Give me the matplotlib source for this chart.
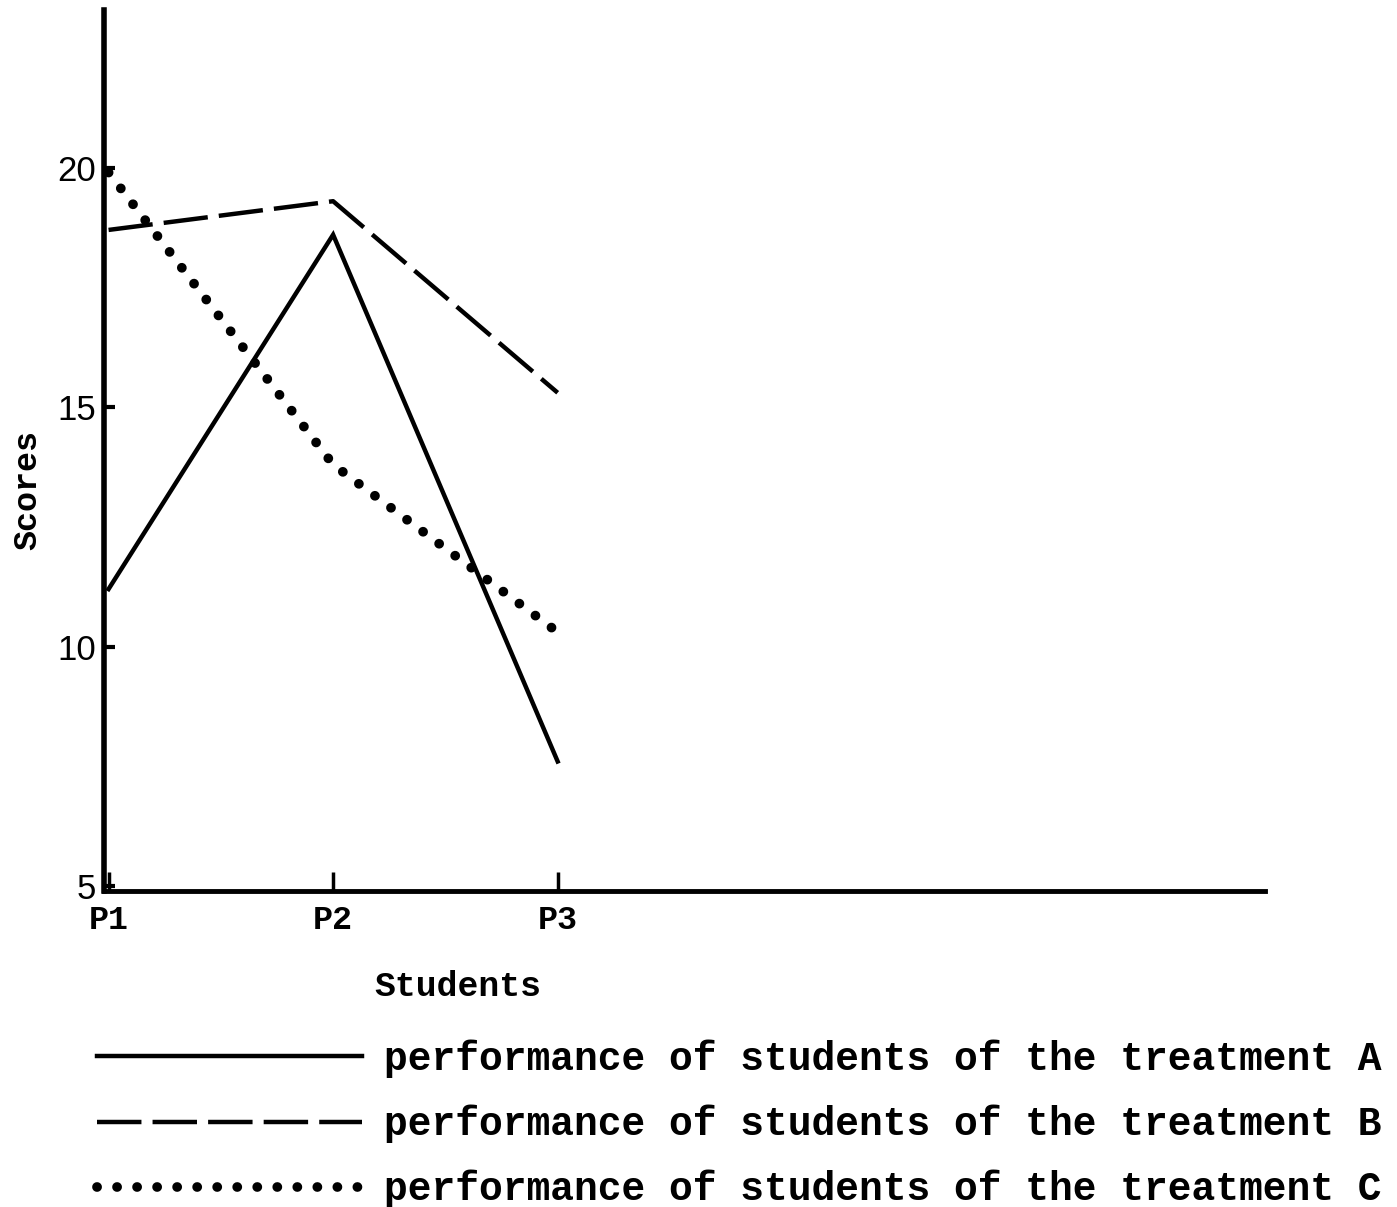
import matplotlib.pyplot as plt

students = ["P1", "P2", "P3"]
treatment_a = [11.2, 18.6, 7.6]
treatment_b = [18.7, 19.3, 15.3]
treatment_c = [19.9, 13.8, 10.3]
y_ticks = [5, 10, 15, 20]
labels = ["performance of students of the treatment A",
          "performance of students of the treatment B",
          "performance of students of the treatment C"]

mono = "Liberation Mono"

fig = plt.figure(figsize=(13.97, 12.07), dpi=100)
ax = fig.add_axes([0.0745, 0.262, 0.831, 0.73])

x = list(range(len(students)))
la, = ax.plot(x, treatment_a, color="black", lw=3.2, solid_joinstyle="miter")
lb, = ax.plot(x, treatment_b, color="black", lw=3.2, dashes=(10, 2.5))
lc, = ax.plot(x, treatment_c, color="black", lw=7, dashes=(0.01, 2.05),
              dash_capstyle="round")

ax.set_xlim(-0.02, 5.15)
ax.set_ylim(4.9, 23.3)

for side in ["top", "right"]:
    ax.spines[side].set_visible(False)
ax.spines["left"].set_linewidth(4)
ax.spines["bottom"].set_linewidth(3.5)

ax.set_xticks(x)
ax.set_xticklabels(students, fontfamily=mono, fontweight="bold", fontsize=24)
ax.tick_params(axis="x", direction="in", length=14, width=2.5, pad=10)
ax.set_yticks(y_ticks)
ax.set_yticklabels([str(v) for v in y_ticks], fontfamily="Liberation Sans", fontsize=25)
ax.tick_params(axis="y", direction="in", length=8, width=3, pad=6)

ax.set_xlabel("Students", fontfamily=mono, fontweight="bold", fontsize=25)
ax.xaxis.set_label_coords(0.305, -0.09)
ax.set_ylabel("Scores", fontfamily=mono, fontweight="bold", fontsize=24)
ax.yaxis.set_label_coords(-0.052, 0.455)

fig.legend([la, lb, lc], labels, loc="upper left", bbox_to_anchor=(0.044, 0.168),
           frameon=False, handlelength=6.7, handletextpad=0.55, labelspacing=0.67,
           prop={"family": mono, "weight": "bold", "size": 28.5})

fig.savefig("out.png", dpi=100)
